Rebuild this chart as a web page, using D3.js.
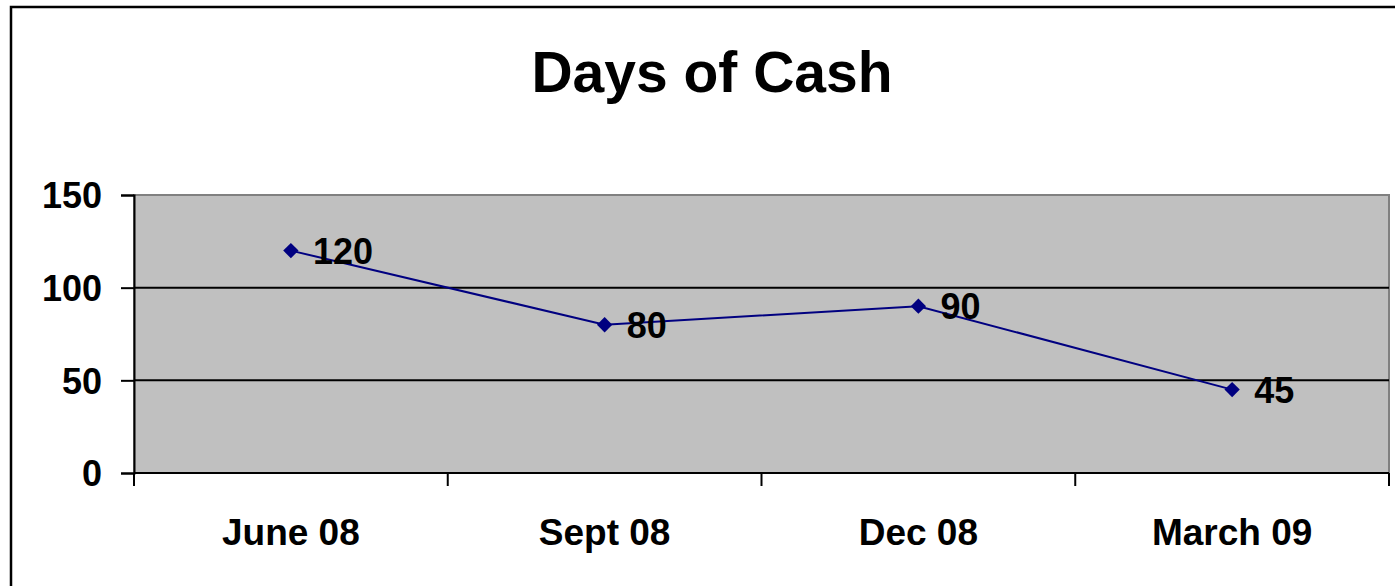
<!DOCTYPE html>
<html><head><meta charset="utf-8">
<script src="https://cdn.jsdelivr.net/npm/d3@7"></script>
<style>
html,body{margin:0;padding:0;background:#fff;}
svg{display:block;}
text{font-family:"Liberation Sans",Arial,sans-serif;font-weight:bold;fill:#000;}
</style></head>
<body>
<svg id="chart" width="1395" height="586"></svg>
<script>
const title = "Days of Cash";
const categories = ["June 08", "Sept 08", "Dec 08", "March 09"];
const values = [120, 80, 90, 45];
const yTicks = [0, 50, 100, 150];

const svg = d3.select("#chart");
const W = 1395, H = 586;
const plot = {left: 134, right: 1389, top: 195, bottom: 473};

// outer chart frame (cropped on right and bottom)
svg.append("rect").attr("x", 11).attr("y", 7).attr("width", W + 20).attr("height", H + 20)
  .attr("fill", "#fff").attr("stroke", "#000").attr("stroke-width", 2.5);

svg.append("text").attr("x", 712).attr("y", 92).attr("text-anchor", "middle")
  .style("font-size", "57px").text(title);

const x = d3.scaleBand().domain(categories).range([plot.left, plot.right]).padding(0);
const y = d3.scaleLinear().domain([0, 150]).range([plot.bottom, plot.top]);

// plot area
svg.append("rect").attr("x", plot.left).attr("y", plot.top)
  .attr("width", plot.right - plot.left).attr("height", plot.bottom - plot.top)
  .attr("fill", "#c0c0c0").attr("stroke", "#808080").attr("stroke-width", 2);

// gridlines
svg.append("g").selectAll("line").data(yTicks.filter(d => d > 0 && d < 150)).join("line")
  .attr("x1", plot.left).attr("x2", plot.right)
  .attr("y1", d => y(d)).attr("y2", d => y(d))
  .attr("stroke", "#000").attr("stroke-width", 2);

// y axis
const yAxis = svg.append("g").attr("transform", `translate(${plot.left},0)`)
  .call(d3.axisLeft(y).tickValues(yTicks).tickSize(13).tickPadding(19).tickFormat(d3.format("d")));
yAxis.select(".domain").attr("stroke", "#000").attr("stroke-width", 2);
yAxis.selectAll(".tick line").attr("stroke", "#000").attr("stroke-width", 2);
yAxis.selectAll(".tick text").style("font-size", "36px").style("font-family", '"Liberation Sans",Arial,sans-serif')
  .style("font-weight", "bold").attr("fill", "#000").attr("dy", "0.36em");

// x axis line and boundary ticks
const xg = svg.append("g");
xg.append("line").attr("x1", plot.left).attr("x2", plot.right)
  .attr("y1", plot.bottom).attr("y2", plot.bottom).attr("stroke", "#000").attr("stroke-width", 2);
const bounds = categories.map(c => x(c)).concat([x(categories[categories.length - 1]) + x.bandwidth()]);
xg.selectAll("line.tk").data(bounds).join("line").attr("class", "tk")
  .attr("x1", d => d).attr("x2", d => d).attr("y1", plot.bottom).attr("y2", plot.bottom + 13)
  .attr("stroke", "#000").attr("stroke-width", 2);
xg.selectAll("text").data(categories).join("text")
  .attr("x", d => x(d) + x.bandwidth() / 2).attr("y", 545)
  .attr("text-anchor", "middle").style("font-size", "37px").text(d => d);

// line series
const cx = (d, i) => x(categories[i]) + x.bandwidth() / 2;
const line = d3.line().x((d, i) => cx(d, i)).y(d => y(d));
svg.append("path").datum(values).attr("d", line)
  .attr("fill", "none").attr("stroke", "#000080").attr("stroke-width", 2);

const diamond = d3.symbol().type(d3.symbolDiamond2).size(150);
svg.append("g").selectAll("path").data(values).join("path")
  .attr("d", diamond)
  .attr("transform", (d, i) => `translate(${cx(d, i)},${y(d)})`)
  .attr("fill", "#000080");

svg.append("g").selectAll("text").data(values).join("text")
  .attr("x", (d, i) => cx(d, i) + 22).attr("y", d => y(d) + 13)
  .style("font-size", "36px").text(d => d);
</script>
</body></html>
